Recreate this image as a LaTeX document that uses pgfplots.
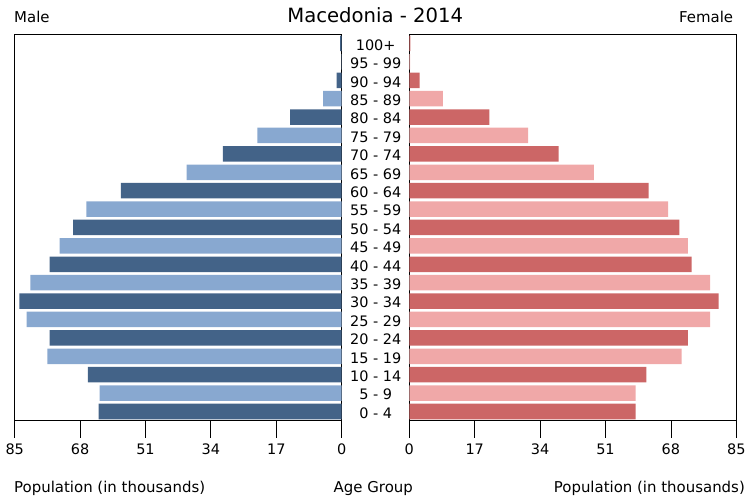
\documentclass[border=0pt]{standalone}
\usepackage{pgfplots}
\pgfplotsset{compat=1.18}
\usepackage{fontspec}
\setmainfont{DejaVu Sans}
\definecolor{mD}{RGB}{67,99,136}
\definecolor{mL}{RGB}{136,168,208}
\definecolor{fD}{RGB}{204,102,102}
\definecolor{fL}{RGB}{240,168,168}
\begin{document}
\begin{tikzpicture}
\useasboundingbox (0,0) rectangle (753bp,497bp);
\pgfplotsset{pyr/.style={
  scale only axis, width=327bp, height=386.4bp,
  xmin=0, xmax=85, ymin=-0.5, ymax=20.5,
  xtick={0,17,34,51,68,85},
  tick align=inside,
  major tick length=17bp,
  xtick pos=bottom,
  axis line style={line width=0.8pt},
  x tick style={black, line width=0.8pt, yshift=-17bp},
  xticklabel shift=17bp,
  xticklabel style={font=\fontsize{14.5}{17}\selectfont, anchor=north, inner sep=0pt, yshift=-6bp},
  /pgf/number format/assume math mode=true,
  xbar, bar width=15.5bp, bar shift=0pt,
}}
% Male
\begin{axis}[pyr, at={(14.7bp,76.3bp)}, anchor=south west, x dir=reverse, ytick=\empty]
\addplot[draw=none, fill=mD] coordinates {
(63.2,0) (66.0,2) (75.9,4) (83.8,6) (75.9,8) (69.8,10) (57.4,12) (30.9,14) (13.4,16) (1.3,18) (0.4,20)};
\addplot[draw=none, fill=mL] coordinates {
(62.9,1) (76.5,3) (81.9,5) (80.9,7) (73.3,9) (66.4,11) (40.3,13) (21.9,15) (4.8,17) (0.1,19)};
\end{axis}
% Female
\begin{axis}[pyr, at={(409.3bp,76.3bp)}, anchor=south west,
  ytick={0,1,...,20}, ytick pos=left, y tick style={draw=none},
  yticklabels={0 - 4,5 - 9,10 - 14,15 - 19,20 - 24,25 - 29,30 - 34,35 - 39,40 - 44,45 - 49,50 - 54,55 - 59,60 - 64,65 - 69,70 - 74,75 - 79,80 - 84,85 - 89,90 - 94,95 - 99,100+},
  yticklabel style={font=\fontsize{14.5}{17}\selectfont, anchor=center, xshift=-16.6bp, yshift=-1.5bp, inner sep=0pt}]
\addplot[draw=none, fill=fD] coordinates {
(58.8,0) (61.6,2) (72.4,4) (80.4,6) (73.4,8) (70.2,10) (62.2,12) (38.8,14) (20.8,16) (2.7,18) (0.3,20)};
\addplot[draw=none, fill=fL] coordinates {
(58.8,1) (70.8,3) (78.2,5) (78.2,7) (72.4,9) (67.3,11) (48.0,13) (30.9,15) (8.7,17) (0.2,19)};
\end{axis}
\begin{scope}[every node/.style={inner sep=0pt, font=\fontsize{15}{18}\selectfont}]
\node[anchor=base, font=\fontsize{19.7}{23}\selectfont] at (375.2bp,474.3bp) {Macedonia - 2014};
\node[anchor=base west] at (14bp,474.3bp) {Male};
\node[anchor=base east] at (733.3bp,474.3bp) {Female};
\node[anchor=base west] at (14bp,5bp) {Population (in thousands)};
\node[anchor=base] at (373.3bp,5bp) {Age Group};
\node[anchor=base east] at (745bp,5bp) {Population (in thousands)};
\end{scope}
\end{tikzpicture}
\end{document}
